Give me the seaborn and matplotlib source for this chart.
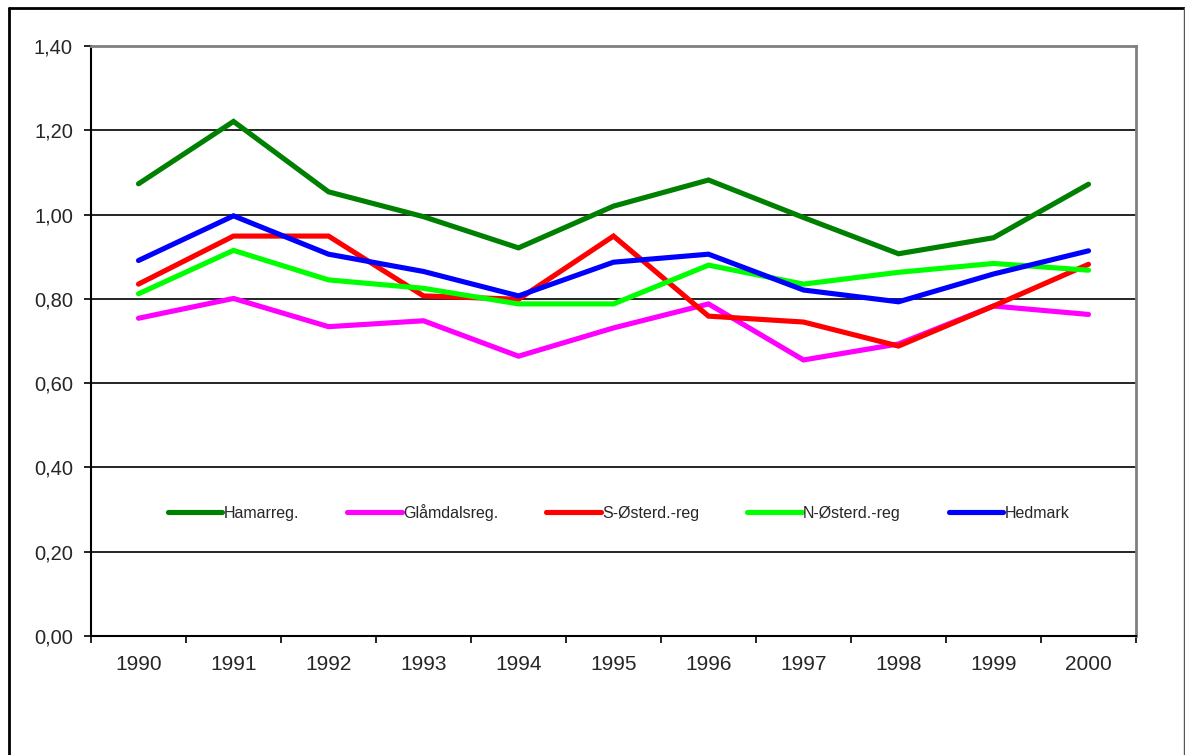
import pandas as pd
import numpy as np
import matplotlib
matplotlib.use("Agg")
import matplotlib.pyplot as plt
from matplotlib.lines import Line2D
from matplotlib.ticker import FuncFormatter, FixedLocator
import seaborn as sns

years = ['1990', '1991', '1992', '1993', '1994', '1995', '1996', '1997', '1998', '1999', '2000']
regions = ['Hamarreg.', 'Glåmdalsreg.', 'S-Østerd.-reg', 'N-Østerd.-reg', 'Hedmark']
colors = ['#008000', '#FF00FF', '#FF0000', '#00FF00', '#0000FF']

hamar = [1.073, 1.221, 1.054, 0.995, 0.921, 1.020, 1.082, 0.993, 0.907, 0.945, 1.072]
glamdal = [0.754, 0.801, 0.734, 0.748, 0.664, 0.731, 0.788, 0.655, 0.693, 0.783, 0.763]
s_osterd = [0.835, 0.949, 0.949, 0.807, 0.799, 0.949, 0.759, 0.745, 0.688, 0.783, 0.882]
n_osterd = [0.812, 0.915, 0.845, 0.825, 0.788, 0.788, 0.880, 0.835, 0.863, 0.884, 0.868]
hedmark = [0.891, 0.997, 0.906, 0.865, 0.807, 0.887, 0.906, 0.821, 0.793, 0.859, 0.914]

series = [hamar, glamdal, s_osterd, n_osterd, hedmark]
rows = []
for name, vals in zip(regions, series):
    for i, v in enumerate(vals):
        rows.append({'pos': i, 'year': years[i], 'region': name, 'value': v})
df = pd.DataFrame(rows)

sns.set_style('white')
plt.rcParams['font.family'] = ['Liberation Sans', 'DejaVu Sans']

fig = plt.figure(figsize=(11.85, 7.55), dpi=100)
ax = fig.add_axes([91 / 1185, 1 - 636 / 755, (1136 - 91) / 1185, (636 - 46) / 755])

sns.lineplot(data=df, x='pos', y='value', hue='region', hue_order=regions,
             palette=colors, linewidth=3.7, ax=ax, sort=False)
for ln in ax.lines:
    ln.set_solid_capstyle('round')
    ln.set_solid_joinstyle('miter')

ax.set_xlim(-0.5, 10.5)
ax.set_ylim(0, 1.4)
ax.set_xlabel('')
ax.set_ylabel('')

ax.set_yticks(np.arange(0, 1.41, 0.2))
ax.yaxis.set_major_formatter(FuncFormatter(lambda v, p: f'{v:.2f}'.replace('.', ',')))
ax.yaxis.grid(True, color='black', linewidth=1.2)
ax.set_axisbelow(True)

ax.set_xticks(range(len(years)))
ax.set_xticklabels(years)
ax.xaxis.set_minor_locator(FixedLocator(np.arange(-0.5, 10.6, 1)))
ax.tick_params(axis='x', which='major', length=0, pad=14, labelsize=15)
ax.tick_params(axis='x', which='minor', length=5, width=1.2, color='black', direction='out', bottom=True)
ax.tick_params(axis='y', which='major', length=5, width=1.2, color='black', direction='out',
               left=True, pad=8, labelsize=14.5)

for side in ['left', 'bottom']:
    ax.spines[side].set_color('black')
    ax.spines[side].set_linewidth(1.5)
for side in ['top', 'right']:
    ax.spines[side].set_color('#808080')
    ax.spines[side].set_linewidth(2)

handles, labels = ax.get_legend_handles_labels()
ax.legend(handles, labels, ncol=5, frameon=False, loc='center',
          bbox_to_anchor=(0.505, 0.21), fontsize=11.5, handlelength=3.4,
          handletextpad=0.1, columnspacing=3.0, borderpad=0)

# outer chart frame
fig.add_artist(Line2D([9 / 1185, 1184 / 1185], [1 - 8 / 755, 1 - 8 / 755], color='black', linewidth=2))
fig.add_artist(Line2D([9 / 1185, 9 / 1185], [0, 1 - 8 / 755], color='black', linewidth=2))
fig.add_artist(Line2D([1184 / 1185, 1184 / 1185], [0, 1 - 8 / 755], color='#555555', linewidth=1))

fig.savefig('out.png', dpi=100)
